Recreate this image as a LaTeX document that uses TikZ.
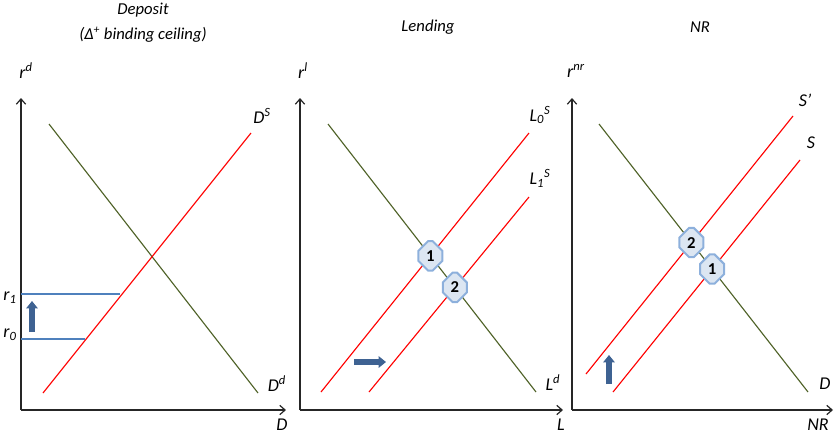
\documentclass[tikz,border=0pt]{standalone}
\usepackage{fontspec}
\setmainfont{Carlito}
\usetikzlibrary{shapes.misc, arrows.meta, positioning, calc}
\definecolor{supply}{RGB}{255,0,0}
\definecolor{demand}{RGB}{79,98,40}
\definecolor{ceiling}{RGB}{79,129,189}
\definecolor{shiftblue}{RGB}{62,98,146}
\definecolor{eqfill}{RGB}{220,230,242}
\definecolor{eqdraw}{RGB}{141,176,220}
\tikzset{
  axis/.style={-{Straight Barb[length=4pt,width=7pt]}, line width=0.9pt, black!85},
  supplyline/.style={supply, line width=0.85pt},
  demandline/.style={demand, line width=0.85pt},
  ceilline/.style={ceiling, line width=0.8pt},
  shiftarrow/.style={-{Triangle[length=5.5pt,width=8.5pt]}, line width=4pt, shiftblue},
  eqpoint/.style={chamfered rectangle, chamfered rectangle xsep=5pt,
    chamfered rectangle ysep=5pt, draw=eqdraw, fill=eqfill, line width=1.5pt,
    minimum width=18pt, minimum height=22pt, inner sep=0pt,
    font=\fontsize{12.5}{14}\selectfont\bfseries},
  paneltitle/.style={font=\fontsize{12.5}{15}\selectfont\itshape, align=center},
  lab/.style={font=\fontsize{13.5}{16}\selectfont\itshape, inner sep=0pt},
}

\begin{document}
\begin{tikzpicture}[x=0.75pt, y=-0.75pt]
  \useasboundingbox (0,0) rectangle (834,437);

  % Panel 1 -- deposit
  \coordinate (dO) at (21,410);
  \coordinate (dY) at (21,98);
  \coordinate (dX) at (286,410);
  \coordinate (ddA) at (49,124);
  \coordinate (ddB) at (258,393);
  \coordinate (dsA) at (43,393);
  \coordinate (dsB) at (251,133);
  \coordinate (rOneA) at (21,294);
  \coordinate (rOneB) at (120,294);
  \coordinate (rZeroA) at (21,339);
  \coordinate (rZeroB) at (85,339);
  \coordinate (dUpA) at (32,332);
  \coordinate (dUpB) at (32,301);

  \draw[axis] (dO) -- (dY);
  \draw[axis] (dO) -- (dX);
  \draw[demandline] (ddA) -- (ddB);
  \draw[supplyline] (dsA) -- (dsB);
  \draw[ceilline] (rOneA) -- (rOneB);
  \draw[ceilline] (rZeroA) -- (rZeroB);
  \draw[shiftarrow] (dUpA) -- (dUpB);

  \node[paneltitle] (depTitle) at (143,10) {Deposit};
  \node[paneltitle] (depSub) at (143,35) {(Δ\textsuperscript{+} binding ceiling)};
  \node[lab] (rd) at (26,71) {r\textsuperscript{d}};
  \node[lab] (DS) at (262,116) {D\textsuperscript{S}};
  \node[lab] (Dd) at (277,384) {D\textsuperscript{d}};
  \node[lab] (Dx) at (282,425) {D};
  \node[lab] (rOne) at (10,298) {r\textsubscript{1}};
  \node[lab] (rZero) at (10,335) {r\textsubscript{0}};

  % Panel 2 -- lending
  \coordinate (lO) at (300,410);
  \coordinate (lY) at (300,98);
  \coordinate (lX) at (563,410);
  \coordinate (ldA) at (328,124);
  \coordinate (ldB) at (536,392);
  \coordinate (lsZeroA) at (321,392);
  \coordinate (lsZeroB) at (529,133);
  \coordinate (lsOneA) at (369,392);
  \coordinate (lsOneB) at (529,197);
  \coordinate (lRightA) at (354,362);
  \coordinate (lRightB) at (386,362);

  \draw[axis] (lO) -- (lY);
  \draw[axis] (lO) -- (lX);
  \draw[demandline] (ldA) -- (ldB);
  \draw[supplyline] (lsZeroA) -- (lsZeroB);
  \draw[supplyline] (lsOneA) -- (lsOneB);
  \draw[shiftarrow] (lRightA) -- (lRightB);

  \node[eqpoint] (lEqOne) at (intersection of ldA--ldB and lsZeroA--lsZeroB) {1};
  \node[eqpoint] (lEqTwo) at (intersection of ldA--ldB and lsOneA--lsOneB) {2};

  \node[paneltitle] (lenTitle) at (428,27) {Lending};
  \node[lab] (rl) at (303,71) {r\textsuperscript{l}};
  \node[lab] (LzS) at (540,115) {L\textsubscript{0}\textsuperscript{S}};
  \node[lab] (LoS) at (540,178) {L\textsubscript{1}\textsuperscript{S}};
  \node[lab] (Ld) at (553,383) {L\textsuperscript{d}};
  \node[lab] (Lx) at (561,425) {L};

  % Panel 3 -- NR
  \coordinate (nO) at (572,410);
  \coordinate (nY) at (572,98);
  \coordinate (nX) at (833,410);
  \coordinate (ndA) at (599,124);
  \coordinate (ndB) at (808,392);
  \coordinate (nsNewA) at (586,374);
  \coordinate (nsNewB) at (793,116);
  \coordinate (nsA) at (613,392);
  \coordinate (nsB) at (800,160);
  \coordinate (nUpA) at (609,384);
  \coordinate (nUpB) at (609,355);

  \draw[axis] (nO) -- (nY);
  \draw[axis] (nO) -- (nX);
  \draw[demandline] (ndA) -- (ndB);
  \draw[supplyline] (nsNewA) -- (nsNewB);
  \draw[supplyline] (nsA) -- (nsB);
  \draw[shiftarrow] (nUpA) -- (nUpB);

  \node[eqpoint] (nEqTwo) at (intersection of ndA--ndB and nsNewA--nsNewB) {2};
  \node[eqpoint] (nEqOne) at (intersection of ndA--ndB and nsA--nsB) {1};

  \node[paneltitle] (nrTitle) at (700,27) {NR};
  \node[lab] (rnr) at (576,71) {r\textsuperscript{nr}};
  \node[lab] (Sp) at (805,100) {S’};
  \node[lab] (S) at (811,143) {S};
  \node[lab] (Dn) at (825,384) {D};
  \node[lab] (NRx) at (818,425) {NR};
\end{tikzpicture}
\end{document}
